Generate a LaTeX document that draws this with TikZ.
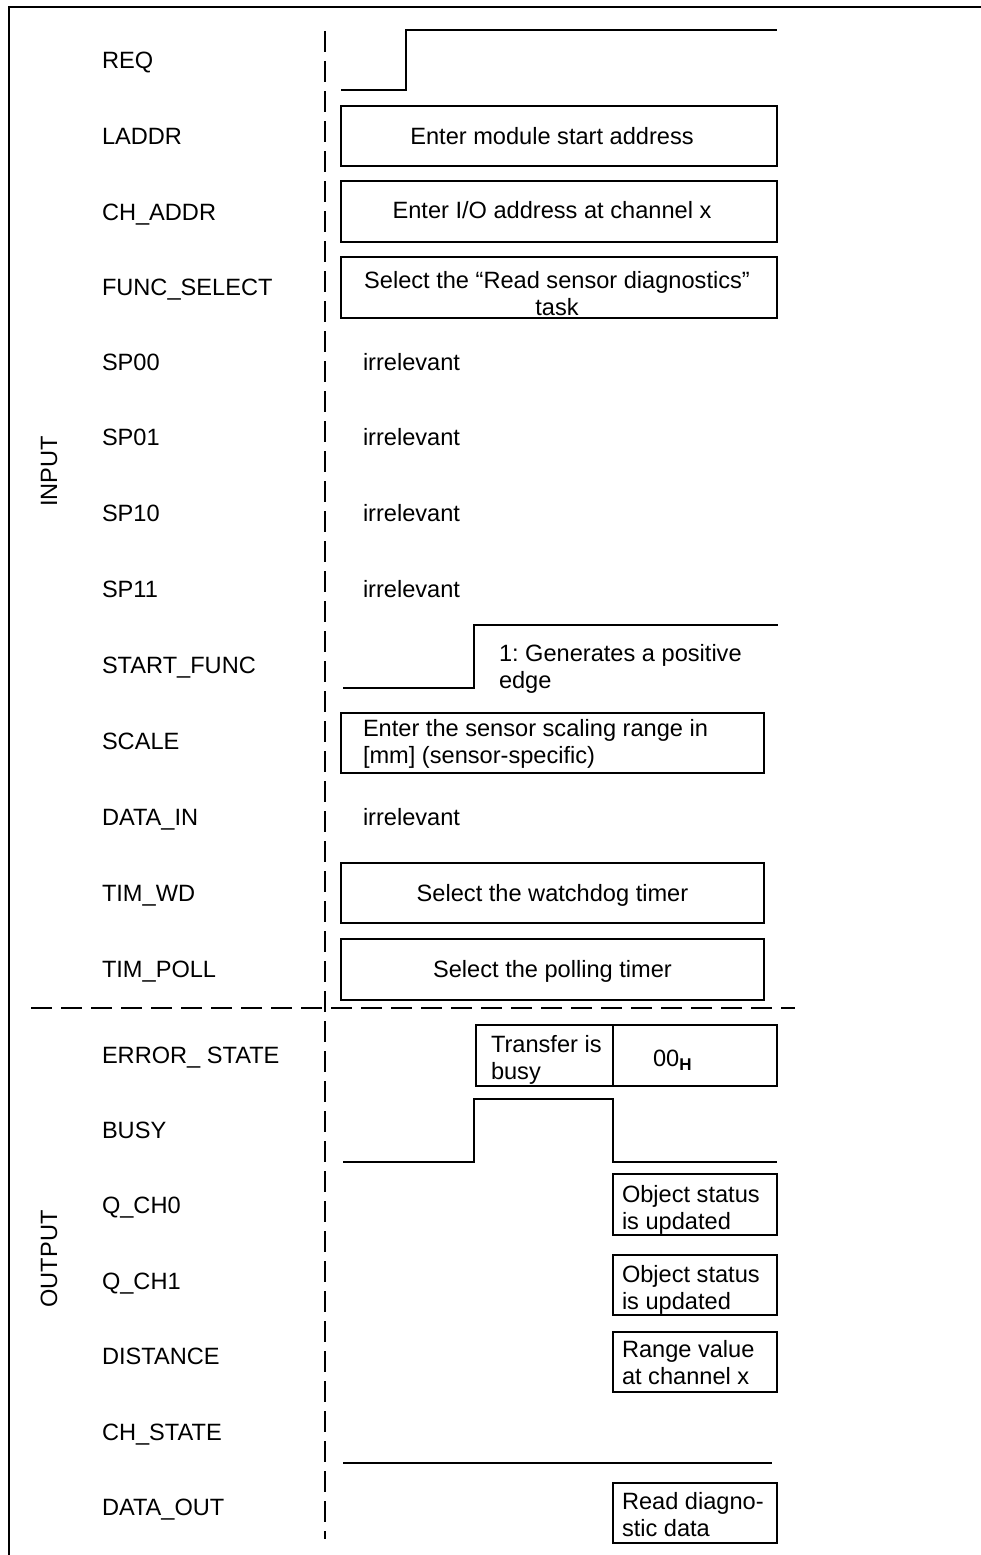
\documentclass[tikz,border=0pt]{standalone}
\usepackage{fontspec}
\setmainfont{Liberation Sans}
\frenchspacing
\newcommand\linesl[2]{\begin{tabular}[t]{@{}l@{}}#1\\\relax #2\end{tabular}}
\newcommand\linesc[2]{\begin{tabular}[t]{@{}c@{}}#1\\\relax #2\end{tabular}}
\begin{document}
\begin{tikzpicture}[x=1pt,y=-1pt,
  every node/.style={inner sep=0pt,outer sep=0pt,font=\fontsize{23.6}{27.5}\selectfont\frenchspacing},
  sig/.style={line width=1.2pt,line join=miter},
  box/.style={draw,line width=1.2pt,inner sep=0pt},
  lbl/.style={anchor=base west},
  ctext/.style={anchor=base},
  sep/.style={line width=1.2pt,dash pattern=on 21pt off 9pt}]
\useasboundingbox (0,0) rectangle (981,1555);
% frame
\draw[line width=1.3pt] (981,7) -- (9,7) -- (9,1555);
% separators
\draw[sep] (325,31) -- (325,1539);
\draw[sep] (31,1008) -- (795,1008);
% side labels
\node[rotate=90,anchor=base] (inlbl) at (57,471.5) {INPUT};
\node[rotate=90,anchor=base] (outlbl) at (57,1259) {OUTPUT};
% row labels
\node[lbl] (l1) at (102,68.5) {REQ};
\node[lbl] (l2) at (102,144.5) {LADDR};
\node[lbl] (l3) at (102,220.5) {CH\_ADDR};
\node[lbl] (l4) at (102,295.5) {FUNC\_SELECT};
\node[lbl] (l5) at (102,370.5) {SP00};
\node[lbl] (l6) at (102,445.5) {SP01};
\node[lbl] (l7) at (102,521.5) {SP10};
\node[lbl] (l8) at (102,597.5) {SP11};
\node[lbl] (l9) at (102,673.5) {START\_FUNC};
\node[lbl] (l10) at (102,749.5) {SCALE};
\node[lbl] (l11) at (102,825.5) {DATA\_IN};
\node[lbl] (l12) at (102,901.5) {TIM\_WD};
\node[lbl] (l13) at (102,977.5) {TIM\_POLL};
\node[lbl] (l14) at (102,1063.5) {ERROR\_ STATE};
\node[lbl] (l15) at (102,1138.5) {BUSY};
\node[lbl] (l16) at (102,1213.5) {Q\_CH0};
\node[lbl] (l17) at (102,1289.5) {Q\_CH1};
\node[lbl] (l18) at (102,1364.5) {DISTANCE};
\node[lbl] (l19) at (102,1440.5) {CH\_STATE};
\node[lbl] (l20) at (102,1515.5) {DATA\_OUT};
% REQ signal
\coordinate (reqa) at (341,90);
\coordinate (reqb) at (406,90);
\coordinate (reqc) at (406,30);
\coordinate (reqd) at (777,30);
\draw[sig] (reqa) -- (reqb) -- (reqc) -- (reqd);
% boxes
\node[box,minimum width=436pt,minimum height=60pt] (laddr) at (559,136) {};
\node[ctext] (laddrt) at (552,144) {Enter module start address};
\node[box,minimum width=436pt,minimum height=61pt] (chaddr) at (559,211.5) {};
\node[ctext] (chaddrt) at (552,218.5) {Enter I/O address at channel x};
\node[box,minimum width=436pt,minimum height=61pt] (func) at (559,287.5) {};
\node[ctext] (funct) at (557,288) {\linesc{Select the “Read sensor diagnostics”}{task}};
% irrelevant
\node[lbl] (i1) at (363,370.5) {irrelevant};
\node[lbl] (i2) at (363,445.5) {irrelevant};
\node[lbl] (i3) at (363,521.5) {irrelevant};
\node[lbl] (i4) at (363,597.5) {irrelevant};
% START_FUNC
\coordinate (sfa) at (343,688);
\coordinate (sfb) at (474,688);
\coordinate (sfc) at (474,625);
\coordinate (sfd) at (778,625);
\draw[sig] (sfa) -- (sfb) -- (sfc) -- (sfd);
\node[lbl] (sft) at (499,661) {\linesl{1: Generates a positive}{edge}};
% SCALE
\node[box,minimum width=423pt,minimum height=60pt] (scale) at (552.5,743) {};
\node[lbl] (scalet) at (363,736) {\linesl{Enter the sensor scaling range in}{[mm] (sensor-specific)}};
\node[lbl] (i5) at (363,825.5) {irrelevant};
\node[box,minimum width=423pt,minimum height=60pt] (timwd) at (552.5,893) {};
\node[ctext] (timwdt) at (552.5,901.5) {Select the watchdog timer};
\node[box,minimum width=423pt,minimum height=61pt] (timpoll) at (552.5,969.5) {};
\node[ctext] (timpollt) at (552.5,977) {Select the polling timer};
% ERROR_STATE
\node[box,minimum width=137pt,minimum height=61pt] (errl) at (544.5,1055.5) {};
\node[box,minimum width=164pt,minimum height=61pt] (errr) at (695,1055.5) {};
\node[lbl] (errlt) at (491,1052) {\linesl{Transfer is}{busy}};
\node[lbl] (errrt) at (653,1066) {00\raisebox{-4pt}{\fontsize{17}{17}\selectfont\bfseries H}};
% BUSY
\coordinate (ba) at (343,1162);
\coordinate (bb) at (474,1162);
\coordinate (bc) at (474,1099);
\coordinate (bd) at (613,1099);
\coordinate (be) at (613,1162);
\coordinate (bf) at (777,1162);
\draw[sig] (ba) -- (bb) -- (bc) -- (bd) -- (be) -- (bf);
% outputs
\node[box,minimum width=164pt,minimum height=61pt] (qch0) at (695,1204.5) {};
\node[lbl] (qch0t) at (622,1202) {\linesl{Object status}{is updated}};
\node[box,minimum width=164pt,minimum height=60pt] (qch1) at (695,1285) {};
\node[lbl] (qch1t) at (622,1282) {\linesl{Object status}{is updated}};
\node[box,minimum width=164pt,minimum height=60pt] (dist) at (695,1362) {};
\node[lbl] (distt) at (622,1357) {\linesl{Range value}{at channel x}};
% CH_STATE
\coordinate (csa) at (343,1463);
\coordinate (csb) at (772,1463);
\draw[sig] (csa) -- (csb);
\node[box,minimum width=164pt,minimum height=60pt] (dout) at (695,1513) {};
\node[lbl] (doutt) at (622,1509) {\linesl{Read diagno-}{stic data}};
\end{tikzpicture}
\end{document}
